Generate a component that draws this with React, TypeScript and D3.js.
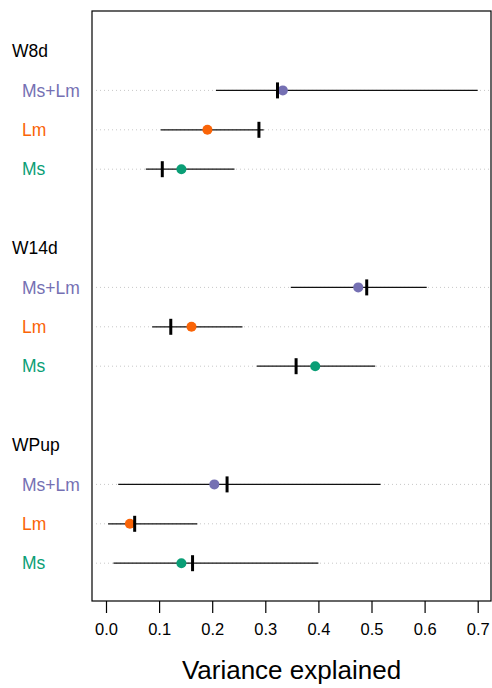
import * as React from 'react';
import * as d3 from 'd3';

const groups = ['W8d', 'W14d', 'WPup'];
const categories = ['Ms+Lm', 'Lm', 'Ms'];
const catColors = ['#7570B3', '#FA6407', '#0A9E76'];

// per group, per category (Ms+Lm, Lm, Ms)
const pointVals = [
    [0.333, 0.191, 0.142],
    [0.475, 0.161, 0.394],
    [0.204, 0.045, 0.142],
];
const barVals = [
    [0.323, 0.288, 0.106],
    [0.491, 0.122, 0.358],
    [0.228, 0.054, 0.163],
];
const lowerVals = [
    [0.207, 0.103, 0.075],
    [0.348, 0.087, 0.284],
    [0.023, 0.004, 0.014],
];
const upperVals = [
    [0.700, 0.297, 0.242],
    [0.604, 0.257, 0.507],
    [0.517, 0.172, 0.400],
];
const xTicks = [0, 0.1, 0.2, 0.3, 0.4, 0.5, 0.6, 0.7];

const W = 492;
const H = 688;
const box = { left: 92, right: 491, top: 11, bottom: 601 };

class App extends React.Component<any, any> {
    ref = React.createRef<SVGSVGElement>();

    componentDidMount() {
        this.draw();
    }

    draw() {
        let svg = d3.select(this.ref.current);
        svg.selectAll('*').remove();
        const font = '"Liberation Sans", Arial, Helvetica, sans-serif';

        let xScale = d3.scaleLinear().domain([0, 0.7]).range([106, 477.7]);
        let yScale = d3.scaleLinear().domain([0, 1]).range([51, 90.4]);

        let rows: any[] = [];
        groups.forEach((g, gi) => {
            categories.forEach((c, ci) => {
                rows.push({
                    group: gi, cat: ci, row: gi * 5 + ci + 1,
                    point: pointVals[gi][ci], bar: barVals[gi][ci],
                    lo: lowerVals[gi][ci], hi: upperVals[gi][ci],
                });
            });
        });

        // dotted guide lines
        svg.selectAll('.guide').data(rows).enter().append('line')
            .attr('x1', box.left + 4).attr('x2', box.right - 2)
            .attr('y1', d => yScale(d.row)).attr('y2', d => yScale(d.row))
            .attr('stroke', '#c8c8c8').attr('stroke-width', 1)
            .attr('stroke-dasharray', '1,3');

        // interval lines
        svg.selectAll('.ci').data(rows).enter().append('line')
            .attr('x1', d => xScale(d.lo)).attr('x2', d => xScale(d.hi))
            .attr('y1', d => yScale(d.row)).attr('y2', d => yScale(d.row))
            .attr('stroke', '#111').attr('stroke-width', 1.3);

        // points
        svg.selectAll('.pt').data(rows).enter().append('circle')
            .attr('cx', d => xScale(d.point)).attr('cy', d => yScale(d.row))
            .attr('r', 5).attr('fill', d => catColors[d.cat]);

        // vertical bar marks
        svg.selectAll('.bar').data(rows).enter().append('line')
            .attr('x1', d => xScale(d.bar)).attr('x2', d => xScale(d.bar))
            .attr('y1', d => yScale(d.row) - 8).attr('y2', d => yScale(d.row) + 8)
            .attr('stroke', '#000').attr('stroke-width', 3);

        // group headers
        svg.selectAll('.grp').data(groups).enter().append('text')
            .attr('x', 12).attr('y', (d, i) => yScale(i * 5)).attr('dy', '0.35em')
            .style('font-family', font).style('font-size', '17.5px')
            .text(d => d);

        // category labels
        svg.selectAll('.cat').data(rows).enter().append('text')
            .attr('x', 22).attr('y', d => yScale(d.row)).attr('dy', '0.35em')
            .style('font-family', font).style('font-size', '17.5px')
            .attr('fill', d => catColors[d.cat])
            .text(d => categories[d.cat]);

        // box
        svg.append('rect')
            .attr('x', box.left).attr('y', box.top)
            .attr('width', box.right - box.left).attr('height', box.bottom - box.top)
            .attr('fill', 'none').attr('stroke', '#000').attr('stroke-width', 1.2);

        // x axis
        let xAxis = d3.axisBottom(xScale).tickValues(xTicks)
            .tickFormat(d3.format('.1f')).tickSize(12).tickPadding(10);
        let ax = svg.append('g')
            .attr('transform', 'translate(0,' + box.bottom + ')')
            .call(xAxis);
        ax.select('.domain').remove();
        ax.selectAll('line').attr('stroke-width', 1.2);
        ax.selectAll('text').style('font-family', font).style('font-size', '16.5px');

        svg.append('text')
            .attr('x', (box.left + box.right) / 2).attr('y', 679)
            .attr('text-anchor', 'middle')
            .style('font-family', font).style('font-size', '26px')
            .text('Variance explained');
    }

    render() {
        return <svg ref={this.ref} width={W} height={H}
            style={{ position: 'absolute', left: 0, top: 0 }} />;
    }
}

export default App;
